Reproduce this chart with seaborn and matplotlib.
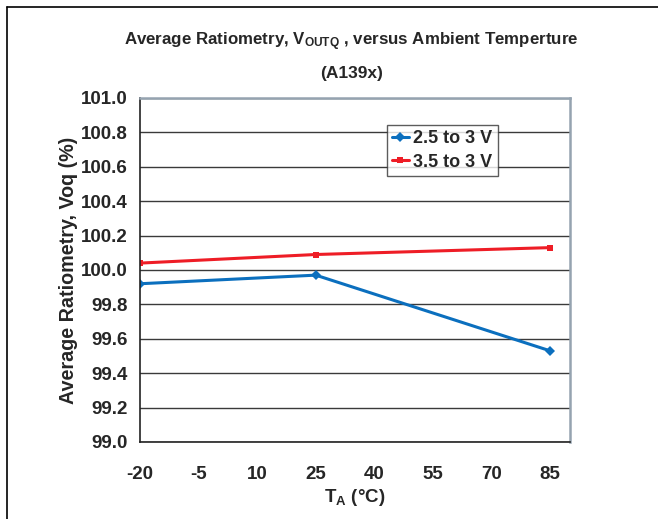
import seaborn as sns
import matplotlib.pyplot as plt
import pandas as pd

# data
temps = [-20, 25, 85]
ratio_25_to_3 = [99.92, 99.97, 99.53]
ratio_35_to_3 = [100.04, 100.09, 100.13]
series_names = ['2.5 to 3 V', '3.5 to 3 V']
x_ticks = [-20, -5, 10, 25, 40, 55, 70, 85]
y_ticks = [99.0, 99.2, 99.4, 99.6, 99.8, 100.0, 100.2, 100.4, 100.6, 100.8, 101.0]

sns.set_style("white")
plt.rcParams['font.family'] = ['Liberation Sans', 'DejaVu Sans']
plt.rcParams['font.weight'] = 'bold'
plt.rcParams['axes.unicode_minus'] = False
plt.rcParams['mathtext.fontset'] = 'custom'
plt.rcParams['mathtext.rm'] = 'Liberation Sans:bold'
plt.rcParams['mathtext.bf'] = 'Liberation Sans:bold'
plt.rcParams['mathtext.default'] = 'bf'

df = pd.DataFrame({
    'T': temps * 2,
    'ratio': ratio_25_to_3 + ratio_35_to_3,
    'series': [series_names[0]] * len(temps) + [series_names[1]] * len(temps),
})

fig = plt.figure(figsize=(6.58, 5.19), dpi=100)
ax = fig.add_axes([0.2128, 0.1484, 0.6535, 0.6628])

palette = {series_names[0]: '#0b6fbe', series_names[1]: '#ee1d26'}
markers = {series_names[0]: 'D', series_names[1]: 's'}
sns.lineplot(data=df, x='T', y='ratio', hue='series', style='series',
             palette=palette, markers=markers, dashes=False,
             linewidth=2.2, markersize=5, markeredgewidth=0, ax=ax)

ax.set_xlim(-20, 90.1)
ax.set_ylim(99.0, 101.0)
ax.set_xticks(x_ticks)
ax.set_xticklabels([str(v) for v in x_ticks])
ax.set_yticks(y_ticks)
ax.set_yticklabels([f'{v:.1f}' for v in y_ticks])
ax.grid(axis='y', color='#3a3a3a', linewidth=1)
ax.set_axisbelow(True)
ax.tick_params(axis='both', labelsize=13.5, width=1, length=5, color='#222222')
ax.tick_params(axis='x', direction='out', pad=12)
ax.tick_params(axis='y', direction='out', pad=4)
for lab in ax.get_xticklabels() + ax.get_yticklabels():
    lab.set_fontweight('bold')

for side in ['left', 'bottom']:
    ax.spines[side].set_color('#222222')
    ax.spines[side].set_linewidth(1.2)
for side in ['top', 'right']:
    ax.spines[side].set_visible(True)
    ax.spines[side].set_color('#95a3b0')
    ax.spines[side].set_linewidth(1.8)

ax.set_xlabel(r'T$_\mathrm{A}$ (°C)', fontsize=13.5, fontweight='bold', labelpad=3)
ax.set_ylabel('Average Ratiometry, Voq (%)', fontsize=14.2, fontweight='bold', labelpad=2)

leg = ax.legend(loc='upper left', bbox_to_anchor=(0.574, 0.922), frameon=True,
                fancybox=False, fontsize=13, handlelength=0.9, handletextpad=0.25,
                borderpad=0.3, labelspacing=0.35, borderaxespad=0)
leg.get_frame().set_edgecolor('#333333')
leg.get_frame().set_linewidth(1)
for t in leg.get_texts():
    t.set_fontweight('bold')

fig.text(0.534, 0.913, r'Average Ratiometry, V$_\mathrm{OUTQ}$ , versus Ambient Temperture',
         ha='center', va='baseline', fontsize=12.2, fontweight='bold')
fig.text(0.535, 0.850, '(A139x)', ha='center', va='baseline', fontsize=12.5, fontweight='bold')

# outer frame lines (left and top) as in the scanned figure
fig.add_artist(plt.Line2D([0.011, 0.011], [0.0, 0.987], transform=fig.transFigure,
                          color='black', linewidth=1.2))
fig.add_artist(plt.Line2D([0.011, 1.0], [0.987, 0.987], transform=fig.transFigure,
                          color='black', linewidth=1.2))

fig.savefig('out.png', dpi=100)
